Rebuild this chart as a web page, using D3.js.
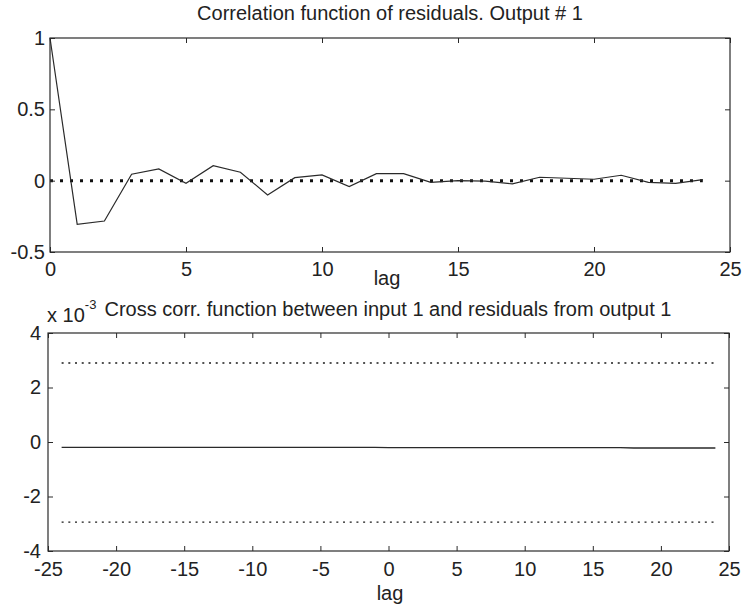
<!DOCTYPE html>
<html>
<head>
<meta charset="utf-8">
<script src="https://cdn.jsdelivr.net/npm/d3@7"></script>
<style>
  html, body { margin: 0; padding: 0; background: #ffffff; }
  svg { display: block; }
  text { font-family: "Liberation Sans", Arial, sans-serif; fill: #222; }
</style>
</head>
<body>
<svg id="chart" width="742" height="608"></svg>
<script>
// ---------- DATA ----------
const autoTitle = "Correlation function of residuals. Output # 1";
const crossTitle = "Cross corr. function between input 1 and residuals from output 1";
const xLabel = "lag";

// Autocorrelation of residuals, lags 0..24
const autoLags = [0,1,2,3,4,5,6,7,8,9,10,11,12,13,14,15,16,17,18,19,20,21,22,23,24];
const autoValues = [1.0, -0.306, -0.283, 0.045, 0.082, -0.019, 0.105, 0.059, -0.100, 0.021,
                    0.040, -0.042, 0.049, 0.049, -0.012, 0.000, -0.003, -0.023, 0.024, 0.017,
                    0.010, 0.038, -0.012, -0.019, 0.007];
const autoConf = [0, 0];   // dotted reference line (lag 0..24)

// Cross correlation, lags -24..24 (units of 1e-3)
const crossLags = [-24,-23,-22,-21,-20,-19,-18,-17,-16,-15,-14,-13,-12,-11,-10,-9,-8,-7,-6,-5,-4,-3,-2,-1,
                   0,1,2,3,4,5,6,7,8,9,10,11,12,13,14,15,16,17,18,19,20,21,22,23,24];
const crossValues = [-0.20,-0.20,-0.20,-0.20,-0.20,-0.20,-0.20,-0.20,-0.20,-0.20,-0.20,-0.20,-0.20,-0.20,-0.20,-0.20,
                     -0.20,-0.20,-0.20,-0.20,-0.20,-0.20,-0.20,-0.20,-0.21,-0.21,-0.21,-0.21,-0.21,-0.21,-0.21,-0.21,
                     -0.21,-0.21,-0.21,-0.21,-0.21,-0.21,-0.21,-0.21,-0.21,-0.21,-0.22,-0.22,-0.22,-0.22,-0.22,-0.22,-0.22];
const crossConfUpper = 2.90;
const crossConfLower = -2.94;

const autoXTicks = [0,5,10,15,20,25];
const autoYTicks = [-0.5,0,0.5,1];
const crossXTicks = [-25,-20,-15,-10,-5,0,5,10,15,20,25];
const crossYTicks = [-4,-2,0,2,4];

// ---------- DRAWING ----------
const svg = d3.select("#chart");
const ink = "#2a2a2a";
const plain = d => String(d);   // hyphen-minus, as in the original

function frame(g, x, y, xTicks, yTicks, xPad, yPad) {
  const [x0, x1] = x.range();
  const [y0, y1] = y.range(); // y0 bottom, y1 top
  const bx = g.append("g").attr("transform", `translate(0,${y0})`)
    .call(d3.axisBottom(x).tickValues(xTicks).tickFormat(plain).tickSizeInner(-5).tickSizeOuter(0).tickPadding(xPad));
  const tx = g.append("g").attr("transform", `translate(0,${y1})`)
    .call(d3.axisTop(x).tickValues(xTicks).tickFormat("").tickSizeInner(-5).tickSizeOuter(0));
  const ly = g.append("g").attr("transform", `translate(${x0},0)`)
    .call(d3.axisLeft(y).tickValues(yTicks).tickFormat(plain).tickSizeInner(-5).tickSizeOuter(0).tickPadding(yPad));
  const ry = g.append("g").attr("transform", `translate(${x1},0)`)
    .call(d3.axisRight(y).tickValues(yTicks).tickFormat("").tickSizeInner(-5).tickSizeOuter(0));
  [bx, tx, ly, ry].forEach(a => {
    a.selectAll(".domain").remove();
    a.selectAll("line").attr("stroke", ink).attr("stroke-width", 1);
    a.selectAll("text").style("font-size", "20px").style("font-family", '"Liberation Sans", Arial, sans-serif').attr("fill", "#222");
  });
  g.append("rect")
    .attr("x", x0).attr("y", y1).attr("width", x1 - x0).attr("height", y0 - y1)
    .attr("fill", "none").attr("stroke", ink).attr("stroke-width", 1.2);
}

// ----- Top plot -----
const xA = d3.scaleLinear().domain([0, 25]).range([50, 730]);
const yA = d3.scaleLinear().domain([-0.5, 1]).range([252, 38]);
const gA = svg.append("g");

gA.append("path")
  .datum([autoLags[0], autoLags[autoLags.length - 1]].map((l, i) => ({lag: l, v: autoConf[i]})))
  .attr("d", d3.line().x(d => xA(d.lag)).y(d => yA(d.v)))
  .attr("fill", "none").attr("stroke", "#111").attr("stroke-width", 3)
  .attr("stroke-dasharray", "3,7");

gA.append("path")
  .datum(autoLags.map((l, i) => ({lag: l, v: autoValues[i]})))
  .attr("d", d3.line().x(d => xA(d.lag)).y(d => yA(d.v)))
  .attr("fill", "none").attr("stroke", ink).attr("stroke-width", 1.2);

frame(gA, xA, yA, autoXTicks, autoYTicks, 10, 5);

gA.append("text").attr("x", 390).attr("y", 20).attr("text-anchor", "middle")
  .style("font-size", "20px").text(autoTitle);
gA.append("text").attr("x", 387).attr("y", 285).attr("text-anchor", "middle")
  .style("font-size", "20px").text(xLabel);

// ----- Bottom plot -----
const xB = d3.scaleLinear().domain([-25, 25]).range([48, 729]);
const yB = d3.scaleLinear().domain([-4, 4]).range([551, 333]);
const gB = svg.append("g");

[crossConfUpper, crossConfLower].forEach(c => {
  gB.append("path")
    .datum([crossLags[0], crossLags[crossLags.length - 1]].map(l => ({lag: l, v: c})))
    .attr("d", d3.line().x(d => xB(d.lag)).y(d => yB(d.v)))
    .attr("fill", "none").attr("stroke", "#1a1a1a").attr("stroke-width", 1.3)
    .attr("stroke-dasharray", "2,4.7");
});

gB.append("path")
  .datum(crossLags.map((l, i) => ({lag: l, v: crossValues[i]})))
  .attr("d", d3.line().x(d => xB(d.lag)).y(d => yB(d.v)))
  .attr("fill", "none").attr("stroke", ink).attr("stroke-width", 1.3);

frame(gB, xB, yB, crossXTicks, crossYTicks, 11, 7);

gB.append("text").attr("x", 388).attr("y", 316).attr("text-anchor", "middle")
  .style("font-size", "20px").text(crossTitle);
const expo = gB.append("text").attr("x", 47).attr("y", 322).style("font-size", "20px");
expo.append("tspan").text("x 10");
expo.append("tspan").attr("dy", -13).style("font-size", "13px").text("-3");
gB.append("text").attr("x", 390).attr("y", 600).attr("text-anchor", "middle")
  .style("font-size", "20px").text(xLabel);
</script>
</body>
</html>
